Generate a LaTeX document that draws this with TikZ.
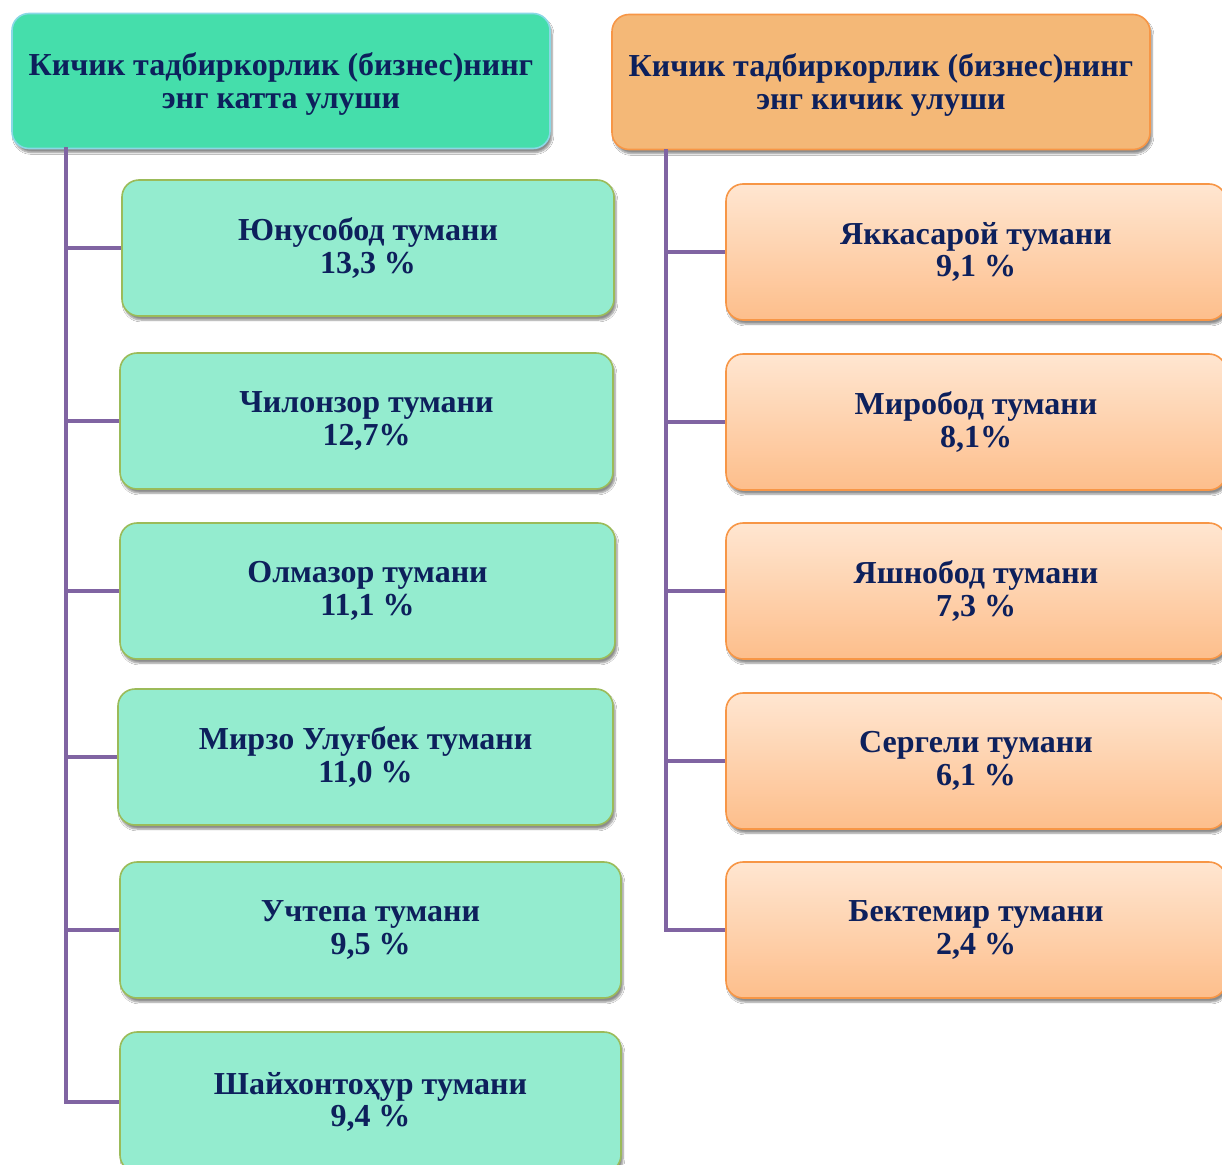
\documentclass[tikz,border=0pt]{standalone}
\usepackage{fontspec}
\setmainfont{Liberation Serif}
\usetikzlibrary{shadows.blur}
\definecolor{navy}{HTML}{0D205C}
\definecolor{lhfill}{HTML}{45DEAB}
\definecolor{lhdraw}{HTML}{8AD8E6}
\definecolor{rhfill}{HTML}{F4B877}
\definecolor{rhdraw}{HTML}{F79646}
\definecolor{lbfill}{HTML}{94ECCF}
\definecolor{lbdraw}{HTML}{9BBB59}
\definecolor{rbtop}{HTML}{FFE6D1}
\definecolor{rbbot}{HTML}{FDBE8B}
\definecolor{conncol}{HTML}{8064A2}
\tikzset{
  shad/.style={blur shadow={shadow xshift=2pt,shadow yshift=-4pt,shadow blur steps=6,shadow opacity=45}},
  basebox/.style={rounded corners=17pt, line width=1.6pt, text=navy, align=center,
    font=\fontsize{32}{32.5}\selectfont\bfseries, inner sep=0pt, shad},
  lhead/.style={basebox, fill=lhfill, draw=lhdraw, minimum width=538pt, minimum height=135pt},
  rhead/.style={basebox, fill=rhfill, draw=rhdraw, minimum width=538pt, minimum height=135pt},
  lbox/.style={basebox, fill=lbfill, draw=lbdraw, minimum width=495pt, minimum height=136pt},
  rbox/.style={basebox, top color=rbtop, bottom color=rbbot, draw=rhdraw, minimum width=500pt, minimum height=136pt},
  conn/.style={draw=conncol, line width=3.5pt}
}
\begin{document}
\begin{tikzpicture}[x=1pt,y=-1pt]
\clip (0,0) rectangle (1222,1164);
\fill[white] (0,0) rectangle (1222,1164);
\coordinate (tL) at (66,147);
\coordinate (tR) at (666,149);
% headers
\node[lhead] (hL) at (281,81) {};
\node[rhead] (hR) at (881,82) {};
\node[text=navy, align=center, font=\fontsize{32}{32.5}\selectfont\bfseries] (tHL) at (281,84) {Кичик тадбиркорлик (бизнес)нинг\\энг катта улуши};
\node[text=navy, align=center, font=\fontsize{32}{32.5}\selectfont\bfseries] (tHR) at (881,85) {Кичик тадбиркорлик (бизнес)нинг\\энг кичик улуши};
% left boxes
\node[lbox, minimum width=492pt] (l1) at (368,248) {Юнусобод тумани\\13,3 \%};
\node[lbox, minimum width=493pt] (l2) at (366.5,421) {Чилонзор тумани\\12,7\%};
\node[lbox, minimum width=495pt] (l3) at (367.5,591) {Олмазор тумани\\11,1 \%};
\node[lbox, minimum width=495pt] (l4) at (365.5,757) {Мирзо Улуғбек тумани\\11,0 \%};
\node[lbox, minimum width=501pt] (l5) at (370.5,930) {Учтепа тумани\\9,5 \%};
\node[lbox, minimum width=501pt, minimum height=140pt] (l6) at (370.5,1102) {Шайхонтоҳур тумани\\9,4 \%};
% right boxes
\node[rbox] (r1) at (976,252) {Яккасарой тумани\\9,1 \%};
\node[rbox] (r2) at (976,422) {Миробод тумани\\8,1\%};
\node[rbox] (r3) at (976,591) {Яшнобод тумани\\7,3 \%};
\node[rbox] (r4) at (976,761) {Сергели тумани\\6,1 \%};
\node[rbox] (r5) at (976,930) {Бектемир тумани\\2,4 \%};
% connectors
\draw[conn] (tL) |- (l6.west);
\foreach \b in {l1,l2,l3,l4,l5} \draw[conn] (tL |- \b.west) -- (\b.west);
\draw[conn] (tR) |- (r5.west);
\foreach \b in {r1,r2,r3,r4} \draw[conn] (tR |- \b.west) -- (\b.west);
\end{tikzpicture}
\end{document}
